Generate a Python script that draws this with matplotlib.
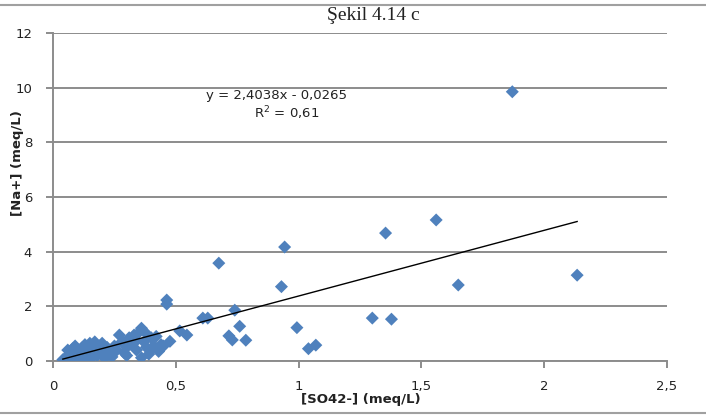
import matplotlib.pyplot as plt
from matplotlib.lines import Line2D
from matplotlib.ticker import FuncFormatter

# sulphate vs sodium, meq/L
so4 = [
    0.04, 0.05, 0.06, 0.07, 0.07, 0.08, 0.08, 0.09, 0.10, 0.10,
    0.11, 0.12, 0.12, 0.13, 0.14, 0.15, 0.15, 0.16, 0.17, 0.18,
    0.19, 0.20, 0.20, 0.21, 0.22, 0.23, 0.24, 0.25, 0.26, 0.27,
    0.28, 0.29, 0.30, 0.31, 0.32, 0.33, 0.34, 0.35, 0.36, 0.36,
    0.37, 0.38, 0.38, 0.39, 0.40, 0.41, 0.42, 0.43, 0.44, 0.45,
    0.06, 0.09, 0.13, 0.18, 0.24, 0.30, 0.34, 0.40,
    0.463, 0.463, 0.476, 0.516, 0.545, 0.61, 0.63, 0.675, 0.716, 0.73,
    0.74, 0.76, 0.785, 0.93, 0.943, 0.993, 1.04, 1.07, 1.30, 1.354,
    1.378, 1.56, 1.65, 1.87, 2.134,
]
na = [
    0.05, 0.10, 0.20, 0.30, 0.05, 0.15, 0.45, 0.55, 0.35, 0.05,
    0.20, 0.50, 0.25, 0.10, 0.30, 0.65, 0.05, 0.45, 0.70, 0.20,
    0.55, 0.35, 0.65, 0.10, 0.50, 0.30, 0.15, 0.55, 0.40, 0.95,
    0.70, 0.30, 0.50, 0.85, 0.60, 0.95, 0.40, 1.05, 1.20, 0.12,
    0.70, 0.50, 1.00, 0.25, 0.85, 0.55, 0.90, 0.35, 0.60, 0.55,
    0.40, 0.25, 0.60, 0.45, 0.35, 0.20, 0.75, 0.45,
    2.23, 2.08, 0.72, 1.10, 0.95, 1.57, 1.57, 3.58, 0.92, 0.77,
    1.86, 1.27, 0.76, 2.72, 4.17, 1.22, 0.45, 0.58, 1.57, 4.68,
    1.53, 5.16, 2.78, 9.85, 3.14,
]

slope = 2.4038
intercept = -0.0265
r2 = 0.61

W, H = 706, 416
fig = plt.figure(figsize=(W / 100, H / 100), dpi=100)
ax = fig.add_axes([0.0751, 0.1322, 0.8697, 0.7885])

grid_col = "#8c8c8c"
text_col = "#222222"
ax.scatter(so4, na, marker="D", s=44, color="#4f81bd", edgecolors="none", zorder=3)

x0, x1 = min(so4), max(so4)
ax.plot([x0, x1], [slope * x0 + intercept, slope * x1 + intercept],
        color="black", lw=1.0, zorder=4)

ax.set_xlim(0, 2.5)
ax.set_ylim(0, 12)
ax.set_xticks([0, 0.5, 1, 1.5, 2, 2.5])
ax.set_yticks(range(0, 13, 2))
ax.xaxis.set_major_formatter(FuncFormatter(lambda v, p: f"{v:g}".replace(".", ",")))
ax.yaxis.grid(True, color=grid_col, lw=1.4)
ax.set_axisbelow(True)
for s in ("top", "right"):
    ax.spines[s].set_visible(False)
for s in ("left", "bottom"):
    ax.spines[s].set_color(grid_col)
    ax.spines[s].set_linewidth(1.4)
ax.tick_params(axis="both", colors=grid_col, width=1.4, length=5,
               labelcolor=text_col, labelsize=9.5)
ax.tick_params(axis="x", pad=9)
ax.tick_params(axis="y", pad=10)

fig.text(373 / W, 1 - 15 / H, "Şekil 4.14 c", family="Liberation Serif",
         fontsize=14, ha="center", va="center", color=text_col)

# trendline equation and fit quality
eq = f"y = {slope:.4f}x - {abs(intercept):.4f}".replace(".", ",")
fig.text(277 / W, 1 - 96 / H, eq, fontsize=9.5, ha="center", va="center",
         color=text_col)
fig.text(287 / W, 1 - 113 / H, "R$^2$ = " + f"{r2:.2f}".replace(".", ","),
         fontsize=9.5, ha="center", va="center", color=text_col)

fig.text(18 / W, 1 - 163 / H, "[Na+] (meq/L)", rotation=90, fontsize=9.5,
         fontweight="bold", ha="center", va="center", color=text_col)
fig.text(361 / W, 1 - 399 / H, "[SO42-] (meq/L)", fontsize=9.5,
         fontweight="bold", ha="center", va="center", color=text_col)

# frame lines above and below the figure
for yy in (1 - 5 / H, 1 - 413 / H):
    fig.add_artist(Line2D([0, 1], [yy, yy], transform=fig.transFigure,
                          color="#a0a0a0", lw=1.5))

fig.savefig("out.png", dpi=100)
